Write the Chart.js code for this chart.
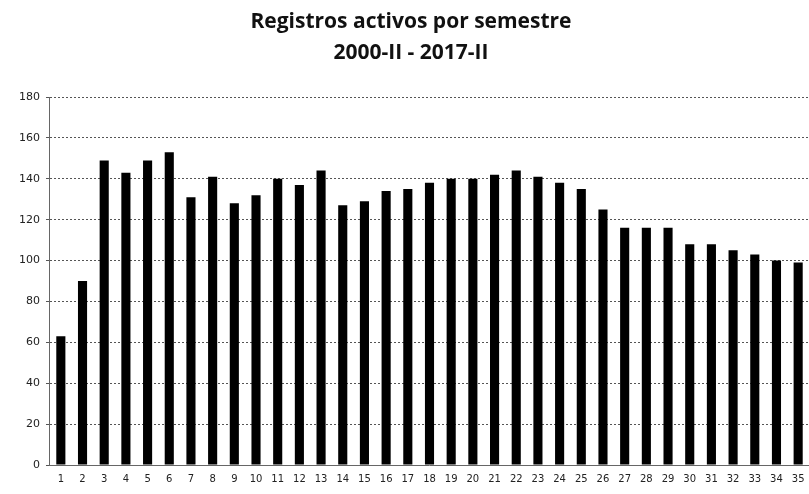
<!DOCTYPE html>
<html lang="es">
<head>
    <meta charset="UTF-8">
    <title>Registros activos por semestre</title>
    <script src="https://cdn.jsdelivr.net/npm/chart.js"></script>
    <style>
        body {
            margin: 0;
            background: #fff;
        }
        #wrap {
            width: 809px;
            height: 494px;
        }
    </style>
</head>
<body>
    <div id="wrap"><canvas id="chart" width="809" height="494"></canvas></div>

    <script>
        const titleLines = ["Registros activos por semestre", "2000-II - 2017-II"];
        const semestres = ["1","2","3","4","5","6","7","8","9","10","11","12","13","14","15","16","17","18",
                           "19","20","21","22","23","24","25","26","27","28","29","30","31","32","33","34","35"];
        const registros = [63, 90, 149, 143, 149, 153, 131, 141, 128, 132, 140, 137, 144, 127, 129, 134, 135, 138,
                           140, 140, 142, 144, 141, 138, 135, 125, 116, 116, 116, 108, 108, 105, 103, 100, 99];
        const yMax = 180;
        const yStep = 20;

        const ctx = document.getElementById('chart').getContext('2d');
        new Chart(ctx, {
            type: 'bar',
            data: {
                labels: semestres,
                datasets: [{
                    data: registros,
                    backgroundColor: '#000',
                    barPercentage: 0.42,
                    categoryPercentage: 1.0
                }]
            },
            options: {
                responsive: false,
                animation: false,
                layout: { padding: { left: 13, right: 0, top: 6, bottom: 9 } },
                plugins: {
                    legend: { display: false },
                    tooltip: { enabled: false },
                    title: {
                        display: true,
                        text: titleLines,
                        color: '#111',
                        font: { family: 'Open Sans', size: 21, weight: 'bold', lineHeight: 1.5 },
                        padding: { top: 0, bottom: 28 }
                    }
                },
                scales: {
                    x: {
                        grid: { display: false },
                        border: { color: '#666', dash: [2, 2] },
                        ticks: {
                            color: '#222',
                            font: { family: 'DejaVu Sans', size: 10 },
                            maxRotation: 0,
                            autoSkip: false,
                            padding: 0
                        }
                    },
                    y: {
                        min: 0,
                        max: yMax,
                        ticks: {
                            stepSize: yStep,
                            color: '#222',
                            font: { family: 'DejaVu Sans', size: 11 },
                            padding: 6
                        },
                        grid: { color: '#555', tickLength: 4 },
                        border: { color: '#666', dash: [2, 2], display: true }
                    }
                }
            }
        });
    </script>
</body>
</html>
